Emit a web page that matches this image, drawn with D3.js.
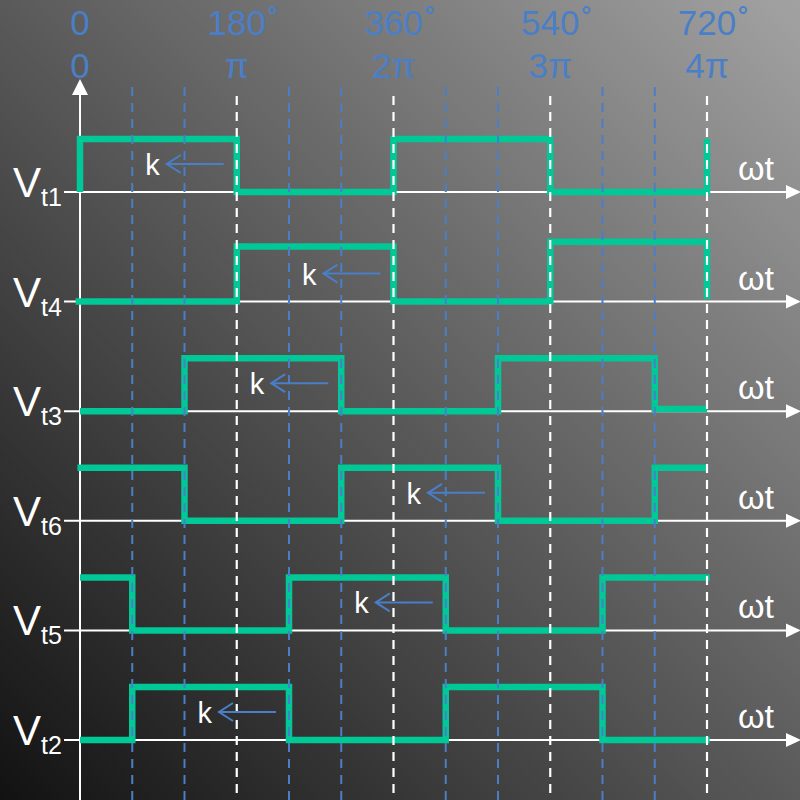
<!DOCTYPE html>
<html><head><meta charset="utf-8">
<script src="https://cdn.jsdelivr.net/npm/d3@7"></script>
<style>html,body{margin:0;padding:0;background:#333;}svg{display:block;}</style>
</head><body>
<script>
// ---- data ----
const signalNames = ["t1","t4","t3","t6","t5","t2"];
// step waveforms: [angle in degrees, level (0 = low, 1 = high)]
const wave_t1 = [[0,0],[0,1],[180,1],[180,0],[360,0],[360,1],[540,1],[540,0],[720,0],[720,1]];
const wave_t4 = [[-5,0],[180,0],[180,1.04],[360,1.04],[360,0],[540,0],[540,1.13],[720,1.13],[720,0.05]];
const wave_t3 = [[0,0],[120,0],[120,1],[300,1],[300,0],[480,0],[480,1],[660,1],[660,0.04],[720,0.04]];
const wave_t6 = [[-3,1],[120,1],[120,0],[300,0],[300,1],[480,1],[480,0],[660,0],[660,1],[720,1]];
const wave_t5 = [[0,1],[60,1],[60,0],[240,0],[240,1],[420,1],[420,0],[600,0],[600,1],[723,1]];
const wave_t2 = [[0,0],[60,0],[60,1],[240,1],[240,0],[420,0],[420,1],[600,1],[600,0],[723,0]];
const waves = [wave_t1, wave_t4, wave_t3, wave_t6, wave_t5, wave_t2];
// angle where the "k" arrow points away from (falling edge)
const kEdges = [180, 360, 300, 480, 420, 240];
// top tick labels
const degTicks = [0, 180, 360, 540, 720];
const degLabels = ["0", "180", "360", "540", "720"];
const radLabels = ["0", "π", "2π", "3π", "4π"];
const minorTicks = [60, 120, 240, 300, 420, 480, 600, 660];
const majorTicks = [180, 360, 540, 720];

// ---- setup ----
const W = 800, H = 800;
const svg = d3.select("body").append("svg").attr("width", W).attr("height", H)
  .style("font-family", "'Liberation Sans', Arial, sans-serif");
const defs = svg.append("defs");
const grad = defs.append("linearGradient").attr("id","bg")
  .attr("x1","0").attr("y1","1").attr("x2","1").attr("y2","0");
grad.append("stop").attr("offset","0").attr("stop-color","#121212");
grad.append("stop").attr("offset","1").attr("stop-color","#a2a2a2");
svg.append("rect").attr("width",W).attr("height",H).attr("fill","url(#bg)");

const x = d3.scaleLinear().domain([0, 720]).range([80, 707]);
const rowY = d3.scaleLinear().domain([0, signalNames.length - 1]).range([192, 740]);
const amp = d3.scaleLinear().domain([0, 1]).range([0, -53]);

const GREEN = "#00c896", BLUE = "#4a7fc8", WHITE = "#ffffff";

// baselines (axes) with arrows
signalNames.forEach((n, i) => {
  const y0 = rowY(i);
  svg.append("line").attr("x1", 64).attr("x2", 788).attr("y1", y0).attr("y2", y0)
    .attr("stroke", WHITE).attr("stroke-width", 2);
  svg.append("path").attr("d", `M786,${y0-7}L801,${y0}L786,${y0+7}Z`).attr("fill", WHITE);
});

// y axis
svg.append("line").attr("x1", x(0)).attr("x2", x(0)).attr("y1", 800).attr("y2", 92)
  .attr("stroke", WHITE).attr("stroke-width", 2);
svg.append("path").attr("d", `M${x(0)-8},95L${x(0)},79L${x(0)+8},95Z`).attr("fill", WHITE);

// waveforms
const line = d3.line().x(d => x(d[0]));
waves.forEach((w, i) => {
  const y0 = rowY(i);
  svg.append("path").datum(w)
    .attr("d", line.y(d => y0 + amp(d[1])))
    .attr("fill", "none").attr("stroke", GREEN).attr("stroke-width", 6.5)
    .attr("stroke-linejoin", "miter");
});

// dashed guides
svg.selectAll(".minor").data(minorTicks).enter().append("line")
  .attr("x1", d => x(d)).attr("x2", d => x(d)).attr("y1", 87).attr("y2", 800)
  .attr("stroke", BLUE).attr("stroke-width", 2).attr("stroke-dasharray", "9,7");
svg.selectAll(".major").data(majorTicks).enter().append("line")
  .attr("x1", d => x(d)).attr("x2", d => x(d)).attr("y1", 96).attr("y2", 800)
  .attr("stroke", WHITE).attr("stroke-width", 2.2).attr("stroke-dasharray", "9,7");

// k arrows
kEdges.forEach((a, i) => {
  const y0 = rowY(i);
  const xr = x(a) - 13, xl = x(a) - 70, ya = y0 - 28;
  svg.append("line").attr("x1", xr).attr("x2", xl).attr("y1", ya).attr("y2", ya)
    .attr("stroke", BLUE).attr("stroke-width", 2);
  svg.append("path").attr("d", `M${xl+14},${ya-9}L${xl},${ya}L${xl+14},${ya+9}`)
    .attr("fill", "none").attr("stroke", BLUE).attr("stroke-width", 2);
  svg.append("text").attr("x", xl - 7).attr("y", y0 - 17).attr("text-anchor", "end")
    .attr("fill", WHITE).attr("font-size", 29).text("k");
});

// signal labels
signalNames.forEach((n, i) => {
  const y0 = rowY(i);
  const t = svg.append("text").attr("x", 13).attr("y", y0 + 5).attr("fill", WHITE)
    .attr("font-size", 42);
  t.append("tspan").text("V");
  t.append("tspan").attr("font-size", 25).attr("dy", 9).text(n);
  svg.append("text").attr("x", 738).attr("y", y0 - 12).attr("fill", WHITE)
    .attr("font-size", 34).text("ωt");
});

// top labels
degTicks.forEach((d, i) => {
  const t = svg.append("text").attr("x", x(d)).attr("y", 35).attr("text-anchor", "middle")
    .attr("fill", BLUE).attr("font-size", 35).text(degLabels[i]);
  if (i > 0) {
    const w = t.node().getComputedTextLength();
    svg.append("text").attr("x", x(d) + w / 2 + 2).attr("y", 33).attr("fill", BLUE)
      .attr("font-size", 33).text("˚");
  }
  svg.append("text").attr("x", x(d)).attr("y", 78).attr("text-anchor", "middle")
    .attr("fill", BLUE).attr("font-size", 35).text(radLabels[i]);
});
</script>
</body></html>
